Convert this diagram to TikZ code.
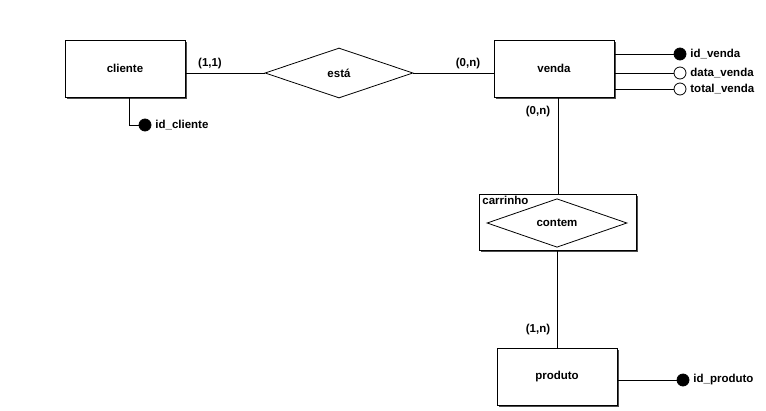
\documentclass[tikz,border=0pt]{standalone}
\usepackage{fontspec}
\setmainfont{Liberation Sans}
\usetikzlibrary{shapes.geometric,shadows}
\begin{document}
\begin{tikzpicture}[x=1pt,y=-1pt,
  every node/.style={font=\fontsize{11.5}{13}\selectfont\bfseries},
  entity/.style={draw,fill=white,minimum width=120pt,minimum height=57pt,inner sep=0pt,
     drop shadow={shadow xshift=2pt,shadow yshift=-2pt,fill=black!70,opacity=1}},
  rel/.style={draw,diamond,aspect=3,inner sep=0pt,fill=white},
  attrk/.style={circle,draw,fill=black,minimum size=12pt,inner sep=0pt},
  attro/.style={circle,draw,fill=white,minimum size=12pt,inner sep=0pt},
  lbl/.style={inner sep=0pt},
  line width=0.8pt]
\useasboundingbox (0,0) rectangle (766,410);
% entities
\node[entity] (cliente) at (125,68.5) {cliente};
\node[entity] (venda) at (554,68.5) {venda};
\node[entity] (produto) at (557,376.5) {produto};
% carrinho aggregate
\node[draw,fill=white,minimum width=157pt,minimum height=56pt,inner sep=0pt,
  drop shadow={shadow xshift=2pt,shadow yshift=-2pt,fill=black!70,opacity=1}] (carrinho) at (557.5,222) {};
\node[lbl,anchor=north west] (carlbl) at (482,196) {carrinho};
% relationships
\node[draw,diamond,minimum width=148pt,minimum height=50pt,inner sep=0pt,fill=white] (esta) at (339,73) {está};
\node[draw,diamond,minimum width=140pt,minimum height=39pt,inner sep=0pt] (contem) at (557,223) {contem};
% connectors
\draw (cliente.east |- esta.west) -- (esta.west);
\draw (esta.east) -- (esta.east -| venda.west);
\coordinate (vb) at (558,97);
\draw (vb) -- (carrinho.north -| vb);
\draw (557,250) -- (produto.north -| 557,0);
% cardinalities
\node[lbl] (c1) at (210,64) {(1,1)};
\node[lbl] (c2) at (468,64) {(0,n)};
\node[lbl] (c3) at (538,112) {(0,n)};
\node[lbl] (c4) at (538,330) {(1,n)};
% attributes venda
\node[attrk] (idv) at (680,54) {};
\node[attro] (dv) at (680,73) {};
\node[attro] (tv) at (680,89) {};
\draw (venda.east |- idv) -- (idv);
\draw (venda.east |- dv) -- (dv);
\draw (venda.east |- tv) -- (tv);
\node[lbl,anchor=west] (idvt) at (690,54) {id\_venda};
\node[lbl,anchor=west] (dvt) at (690,73) {data\_venda};
\node[lbl,anchor=west] (tvt) at (690,89) {total\_venda};
% attribute cliente
\node[attrk] (idc) at (145,125) {};
\coordinate (cb) at (129,97);
\draw (cb) |- (idc);
\node[lbl,anchor=west] (idct) at (155,125) {id\_cliente};
% attribute produto
\node[attrk] (idp) at (683,380) {};
\draw (produto.east |- idp) -- (idp);
\node[lbl,anchor=west] (idpt) at (693,380) {id\_produto};
\end{tikzpicture}
\end{document}
